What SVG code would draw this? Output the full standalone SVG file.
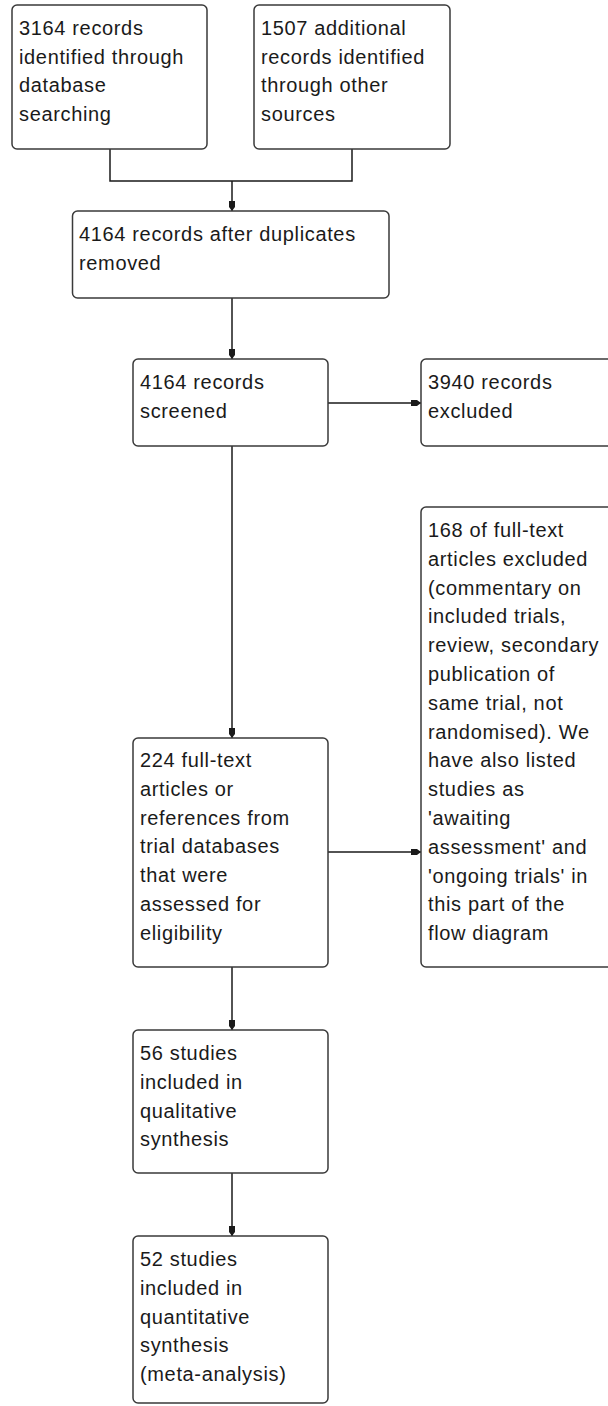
<svg xmlns="http://www.w3.org/2000/svg" width="608" height="1406" viewBox="0 0 608 1406">
<style>
.box{fill:#fff;stroke:#3a3a3a;stroke-width:1.5}
.t{font-family:"Liberation Sans",Arial,sans-serif;font-size:20px;letter-spacing:0.65px;fill:#1a1a1a}
.c{fill:none;stroke:#1a1a1a;stroke-width:1.5}
</style>
<defs>
<marker id="ah" markerUnits="userSpaceOnUse" markerWidth="11" markerHeight="8" refX="10" refY="3.5" orient="auto">
<path d="M0,0.5 L6,0.5 L10,3.5 L6,6.5 L0,6.5 Z" fill="#1a1a1a"/>
</marker>
</defs>
<rect width="608" height="1406" fill="#fff"/>
<g id="connectors">
<path class="c" d="M110,149 V181 H352 V149"/>
<path class="c" d="M232,181 V211" marker-end="url(#ah)"/>
<path class="c" d="M232,298 V359" marker-end="url(#ah)"/>
<path class="c" d="M328,403 H421" marker-end="url(#ah)"/>
<path class="c" d="M232,446 V738" marker-end="url(#ah)"/>
<path class="c" d="M328,852 H421" marker-end="url(#ah)"/>
<path class="c" d="M232,967 V1030" marker-end="url(#ah)"/>
<path class="c" d="M232,1173 V1236" marker-end="url(#ah)"/>
</g>
<g id="n1">
<rect class="box" x="12" y="5" width="195" height="144" rx="5"/>
<text class="t" x="19" y="35">3164 records</text>
<text class="t" x="19" y="63.5">identified through</text>
<text class="t" x="19" y="92">database</text>
<text class="t" x="19" y="120.5">searching</text>
</g>
<g id="n2">
<rect class="box" x="254" y="5" width="196" height="144" rx="5"/>
<text class="t" x="261" y="35">1507 additional</text>
<text class="t" x="261" y="63.5">records identified</text>
<text class="t" x="261" y="92">through other</text>
<text class="t" x="261" y="120.5">sources</text>
</g>
<g id="n3">
<rect class="box" x="72.5" y="211" width="316.5" height="87" rx="5"/>
<text class="t" x="79" y="241">4164 records after duplicates</text>
<text class="t" x="79" y="269.5">removed</text>
</g>
<g id="n4">
<rect class="box" x="133" y="359" width="195" height="87" rx="5"/>
<text class="t" x="140" y="389">4164 records</text>
<text class="t" x="140" y="417.5">screened</text>
</g>
<g id="n5">
<rect class="box" x="421" y="359" width="200" height="87" rx="5"/>
<text class="t" x="428" y="389">3940 records</text>
<text class="t" x="428" y="417.5">excluded</text>
</g>
<g id="n6">
<rect class="box" x="421" y="507" width="200" height="460" rx="5"/>
<text class="t" x="428" y="537">168 of full-text</text>
<text class="t" x="428" y="565.8">articles excluded</text>
<text class="t" x="428" y="594.6">(commentary on</text>
<text class="t" x="428" y="623.4">included trials,</text>
<text class="t" x="428" y="652.2">review, secondary</text>
<text class="t" x="428" y="681">publication of</text>
<text class="t" x="428" y="709.8">same trial, not</text>
<text class="t" x="428" y="738.6">randomised). We</text>
<text class="t" x="428" y="767.4">have also listed</text>
<text class="t" x="428" y="796.2">studies as</text>
<text class="t" x="428" y="825">'awaiting</text>
<text class="t" x="428" y="853.8">assessment' and</text>
<text class="t" x="428" y="882.6">'ongoing trials' in</text>
<text class="t" x="428" y="911.4">this part of the</text>
<text class="t" x="428" y="940.2">flow diagram</text>
</g>
<g id="n7">
<rect class="box" x="133" y="738" width="195" height="229" rx="5"/>
<text class="t" x="140" y="767">224 full-text</text>
<text class="t" x="140" y="795.8">articles or</text>
<text class="t" x="140" y="824.6">references from</text>
<text class="t" x="140" y="853.4">trial databases</text>
<text class="t" x="140" y="882.2">that were</text>
<text class="t" x="140" y="911">assessed for</text>
<text class="t" x="140" y="939.8">eligibility</text>
</g>
<g id="n8">
<rect class="box" x="133" y="1030" width="195" height="143" rx="5"/>
<text class="t" x="140" y="1060">56 studies</text>
<text class="t" x="140" y="1088.8">included in</text>
<text class="t" x="140" y="1117.6">qualitative</text>
<text class="t" x="140" y="1146.4">synthesis</text>
</g>
<g id="n9">
<rect class="box" x="133" y="1236" width="195" height="167" rx="5"/>
<text class="t" x="140" y="1266">52 studies</text>
<text class="t" x="140" y="1294.8">included in</text>
<text class="t" x="140" y="1323.6">quantitative</text>
<text class="t" x="140" y="1352.4">synthesis</text>
<text class="t" x="140" y="1381.2">(meta-analysis)</text>
</g>
</svg>
